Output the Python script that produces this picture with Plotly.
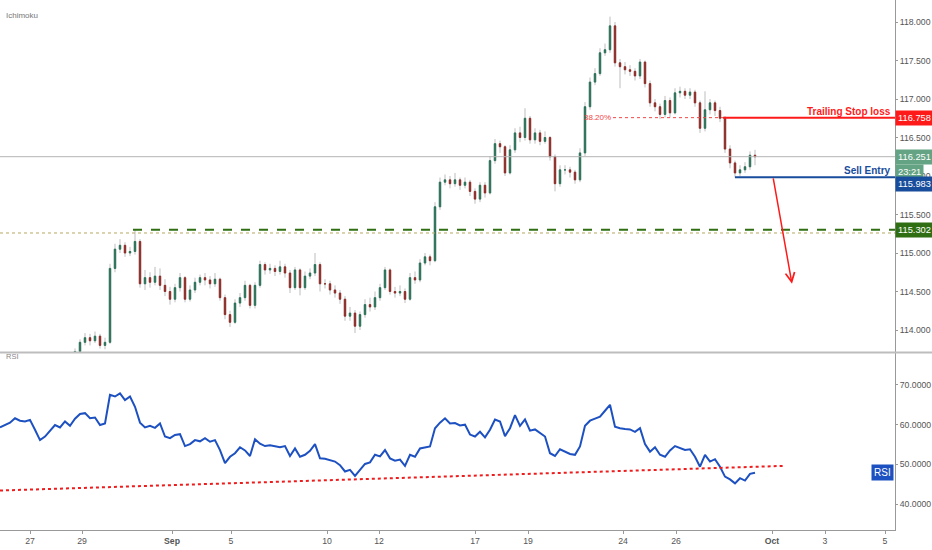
import numpy as np
import plotly.graph_objects as go
from plotly.subplots import make_subplots

# bar index axis (one bar per ~4h), ticks where the day labels sit
tick_pos = [6, 16.4, 34.4, 46.2, 65.4, 75.8, 95, 105.6, 124.6, 135.2, 154.4, 165, 177]
tick_text = ["27", "29", "<b>Sep</b>", "5", "10", "12", "17", "19", "24", "26", "<b>Oct</b>", "3", "5"]

first_bar = 15
opens = [
    113.66, 113.72, 113.84, 113.90, 113.86, 113.92, 113.80, 113.84, 114.80, 115.05,
    115.10, 115.00, 115.02, 115.15, 114.60, 114.68, 114.62, 114.70, 114.58, 114.50,
    114.40, 114.55, 114.68, 114.40, 114.52, 114.62, 114.68, 114.65, 114.60, 114.66,
    114.42, 114.20, 114.10, 114.35, 114.42, 114.58, 114.32, 114.58, 114.85, 114.78,
    114.80, 114.76, 114.82, 114.74, 114.55, 114.78, 114.55, 114.70, 114.74, 114.85,
    114.60, 114.60, 114.52, 114.48, 114.40, 114.18, 114.22, 114.05, 114.20, 114.33,
    114.30, 114.42, 114.55, 114.78, 114.50, 114.48, 114.50, 114.40, 114.68, 114.65,
    114.87, 114.95, 114.90, 115.60, 115.92, 115.95, 115.90, 115.95, 115.88, 115.92,
    115.80, 115.70, 115.88, 115.78, 116.20, 116.42, 116.38, 116.04, 116.34, 116.56,
    116.50, 116.75, 116.47, 116.56, 116.45, 116.50, 116.25, 115.90, 116.08, 116.08,
    116.05, 115.95, 116.30, 116.90, 117.22, 117.33, 117.60, 117.64, 117.95, 117.47,
    117.42, 117.38, 117.36, 117.30, 117.48, 117.20, 116.95, 116.90, 116.80, 116.98,
    116.82, 117.08, 117.10, 117.05, 117.09, 116.95, 116.62, 116.86, 116.95, 116.85,
    116.75, 116.35, 116.17, 116.04, 116.08, 116.12, 116.27,
]
highs = [
    113.76, 113.88, 113.96, 113.95, 113.98, 113.95, 113.90, 114.86, 115.12, 115.18,
    115.14, 115.08, 115.30, 115.18, 114.78, 114.75, 114.82, 114.80, 114.66, 114.56,
    114.60, 114.74, 114.70, 114.58, 114.68, 114.72, 114.74, 114.70, 114.74, 114.68,
    114.46, 114.25, 114.40, 114.48, 114.64, 114.60, 114.62, 114.90, 114.88, 114.86,
    114.84, 114.90, 114.86, 114.78, 114.82, 114.80, 114.76, 114.80, 115.00, 114.88,
    114.66, 114.64, 114.58, 114.52, 114.44, 114.30, 114.26, 114.24, 114.40, 114.42,
    114.50, 114.60, 114.82, 114.80, 114.56, 114.58, 114.54, 114.74, 114.76, 114.92,
    115.00, 114.98, 115.66, 115.98, 116.02, 116.00, 116.04, 115.98, 115.98, 115.95,
    115.84, 115.92, 115.92, 116.26, 116.48, 116.46, 116.40, 116.40, 116.62, 116.64,
    116.88, 116.78, 116.62, 116.60, 116.58, 116.52, 116.28, 116.14, 116.14, 116.12,
    116.08, 116.36, 116.96, 117.28, 117.40, 117.66, 117.72, 118.07, 118.00, 117.52,
    117.48, 117.44, 117.40, 117.52, 117.50, 117.24, 117.00, 116.94, 117.04, 117.02,
    117.14, 117.16, 117.14, 117.14, 117.12, 116.98, 117.10, 117.00, 116.98, 116.90,
    116.78, 116.40, 116.20, 116.14, 116.18, 116.32, 116.34,
]
lows = [
    113.62, 113.70, 113.80, 113.80, 113.83, 113.76, 113.75, 113.82, 114.75, 115.00,
    114.95, 114.96, 114.98, 114.55, 114.52, 114.55, 114.58, 114.52, 114.44, 114.33,
    114.36, 114.50, 114.36, 114.37, 114.48, 114.58, 114.58, 114.54, 114.56, 114.38,
    114.14, 114.04, 114.08, 114.30, 114.38, 114.28, 114.28, 114.55, 114.72, 114.73,
    114.70, 114.72, 114.68, 114.48, 114.52, 114.45, 114.52, 114.66, 114.70, 114.50,
    114.54, 114.46, 114.42, 114.34, 114.12, 114.12, 113.96, 114.00, 114.16, 114.24,
    114.26, 114.38, 114.52, 114.46, 114.42, 114.44, 114.35, 114.38, 114.60, 114.62,
    114.84, 114.84, 114.88, 115.56, 115.88, 115.84, 115.86, 115.82, 115.84, 115.74,
    115.64, 115.66, 115.72, 115.76, 116.16, 116.30, 116.00, 116.02, 116.30, 116.44,
    116.46, 116.42, 116.42, 116.40, 116.42, 116.20, 115.80, 115.86, 116.02, 115.98,
    115.90, 115.92, 116.26, 116.86, 117.18, 117.30, 117.56, 117.60, 117.42, 117.14,
    117.32, 117.30, 117.24, 117.26, 117.15, 116.90, 116.84, 116.74, 116.76, 116.76,
    116.80, 117.02, 117.00, 117.00, 116.90, 116.56, 116.58, 116.80, 116.78, 116.70,
    116.30, 116.10, 115.98, 116.00, 116.04, 116.08, 116.14,
]
closes = [
    113.72, 113.84, 113.90, 113.86, 113.92, 113.80, 113.84, 114.80, 115.05, 115.10,
    115.00, 115.02, 115.15, 114.60, 114.68, 114.62, 114.70, 114.58, 114.50, 114.40,
    114.55, 114.68, 114.40, 114.52, 114.62, 114.68, 114.65, 114.60, 114.66, 114.42,
    114.20, 114.10, 114.35, 114.42, 114.58, 114.32, 114.58, 114.85, 114.78, 114.80,
    114.76, 114.82, 114.74, 114.55, 114.78, 114.55, 114.70, 114.74, 114.85, 114.60,
    114.60, 114.52, 114.48, 114.40, 114.18, 114.22, 114.05, 114.20, 114.33, 114.30,
    114.42, 114.55, 114.78, 114.50, 114.48, 114.50, 114.40, 114.68, 114.65, 114.87,
    114.95, 114.90, 115.60, 115.92, 115.95, 115.90, 115.95, 115.88, 115.92, 115.80,
    115.70, 115.88, 115.78, 116.20, 116.42, 116.38, 116.04, 116.34, 116.56, 116.50,
    116.75, 116.47, 116.56, 116.45, 116.50, 116.25, 115.90, 116.08, 116.08, 116.05,
    115.95, 116.30, 116.90, 117.22, 117.33, 117.60, 117.64, 117.95, 117.47, 117.42,
    117.38, 117.36, 117.30, 117.48, 117.20, 116.95, 116.90, 116.80, 116.98, 116.82,
    117.08, 117.10, 117.05, 117.09, 116.95, 116.62, 116.86, 116.95, 116.85, 116.75,
    116.35, 116.17, 116.04, 116.08, 116.12, 116.27, 116.25,
]

rsi = [
    59.3, 60.0, 60.5, 61.6, 61.0, 60.8, 61.2, 58.7, 56.1, 57.0,
    58.5, 59.9, 59.3, 60.8, 59.7, 61.5, 62.7, 62.9, 61.6, 61.8,
    59.9, 60.3, 67.5, 67.1, 67.9, 66.2, 67.1, 64.5, 60.5, 59.3,
    59.7, 59.2, 60.3, 57.0, 56.6, 57.4, 57.6, 54.6, 55.1, 56.1,
    55.8, 56.6, 55.7, 56.1, 53.6, 50.3, 51.9, 52.8, 54.3, 53.5,
    52.1, 56.3, 55.2, 54.6, 54.8, 54.5, 54.3, 54.6, 52.1, 54.0,
    51.9, 52.4, 53.4, 55.1, 51.5, 51.4, 51.1, 50.7, 49.8, 48.2,
    48.6, 47.1, 48.6, 50.1, 50.5, 52.4, 52.0, 53.6, 51.5, 50.9,
    51.2, 49.6, 52.4, 51.9, 54.0, 54.2, 54.5, 59.1, 60.5, 61.6,
    60.3, 60.4, 59.8, 60.0, 57.5, 57.0, 58.2, 56.8, 58.7, 61.3,
    60.8, 57.1, 59.1, 62.4, 59.7, 61.3, 58.5, 58.8, 57.8, 57.0,
    52.8, 52.1, 53.8, 53.2, 52.6, 52.4, 54.5, 59.7, 61.0, 61.5,
    62.0, 63.5, 65.0, 59.5, 59.1, 58.9, 58.8, 58.2, 59.1, 55.1,
    53.2, 54.3, 52.4, 51.9, 53.5, 54.6, 54.0, 53.6, 53.8, 51.9,
    49.4, 52.4, 50.7, 51.3, 49.4, 46.9, 46.2, 45.2, 46.5, 45.9,
    47.6, 47.9,
]

# drawn levels
last_price = 116.251
stop_level = 116.758
entry_level = 115.983
support_level = 115.302
old_level = 115.26
stop_start, entry_start, support_start = 144.6, 147, 26.6
fib_start = 122.6
arrow_from = (154.6, 115.99)
arrow_to = (158.4, 114.60)
rsi_trend = ([0, 156.6], [43.4, 49.6])

UP, DOWN, WICK = "#2c7258", "#8e2d28", "#bdbdbd"
FONT = "Liberation Sans, Arial, sans-serif"
TICK = dict(size=8.7, color="#555", family=FONT)

bars = np.arange(first_bar, first_bar + len(closes))
o, h, l, c = map(np.array, (opens, highs, lows, closes))

fig = make_subplots(rows=2, cols=1, shared_xaxes=True, vertical_spacing=0.002)

# wicks first (grey), then bodies on top
fig.add_trace(go.Candlestick(x=bars, open=o, high=h, low=l, close=c,
                             increasing=dict(line=dict(color=WICK, width=1), fillcolor=WICK),
                             decreasing=dict(line=dict(color=WICK, width=1), fillcolor=WICK),
                             hoverinfo="skip"), row=1, col=1)
fig.add_trace(go.Candlestick(x=bars, open=o, close=c,
                             high=np.maximum(o, c), low=np.minimum(o, c),
                             increasing=dict(line=dict(color=UP, width=1), fillcolor=UP),
                             decreasing=dict(line=dict(color=DOWN, width=1), fillcolor=DOWN),
                             hoverinfo="skip"), row=1, col=1)

# level lines
fig.add_trace(go.Scatter(x=[0, 179], y=[last_price] * 2, mode="lines",
                         line=dict(color="#b4b4b4", width=1)), row=1, col=1)
fig.add_trace(go.Scatter(x=[0, 179], y=[old_level] * 2, mode="lines",
                         line=dict(color="#b8a860", width=1, dash="dot")), row=1, col=1)
fig.add_trace(go.Scatter(x=[support_start, 179], y=[support_level] * 2, mode="lines",
                         line=dict(color="#2f6e12", width=2, dash="dash")), row=1, col=1)
fig.add_trace(go.Scatter(x=[fib_start, stop_start], y=[stop_level] * 2, mode="lines",
                         line=dict(color="#f24646", width=1, dash="dot")), row=1, col=1)
fig.add_trace(go.Scatter(x=[stop_start, 179], y=[stop_level] * 2, mode="lines",
                         line=dict(color="#ff1a1a", width=2)), row=1, col=1)
fig.add_trace(go.Scatter(x=[entry_start, 179], y=[entry_level] * 2, mode="lines",
                         line=dict(color="#184d9c", width=2)), row=1, col=1)

# RSI pane
fig.add_trace(go.Scatter(x=np.arange(len(rsi)), y=rsi, mode="lines",
                         line=dict(color="#1d50c0", width=2)), row=2, col=1)
fig.add_trace(go.Scatter(x=rsi_trend[0], y=rsi_trend[1], mode="lines",
                         line=dict(color="#ee1c1c", width=2, dash="dot")), row=2, col=1)

ann = []
def tag(text, y, bg, yref="y", yshift=0):
    ann.append(dict(text=text, xref="paper", x=1.0, xanchor="left", yref=yref, y=y,
                    yshift=yshift, showarrow=False, bgcolor=bg, borderpad=2,
                    font=dict(color="white", size=9.3, family=FONT)))

tag(f"{stop_level:.3f}", stop_level, "#ff1a1a")
tag(f"{last_price:.3f}", last_price, "#64a384")
tag("23:21", last_price, "#64a384", yshift=-15)
tag(f"{entry_level:.3f}", entry_level, "#184d9c", yshift=-7)
tag(f"{support_level:.3f}", support_level, "#2f6e12")

ann += [
    dict(text="<b>Trailing Stop loss</b>", xref="paper", x=0.998, xanchor="right",
         yref="y", y=stop_level, yanchor="bottom", yshift=-1, showarrow=False,
         font=dict(color="#ff1a1a", size=10, family=FONT)),
    dict(text="<b>Sell Entry</b>", xref="paper", x=0.998, xanchor="right",
         yref="y", y=entry_level, yanchor="bottom", yshift=-1, showarrow=False,
         font=dict(color="#184d9c", size=10, family=FONT)),
    dict(text="38.20%", xref="x", x=fib_start, xanchor="right", yref="y", y=stop_level,
         showarrow=False, font=dict(color="#f24646", size=8, family=FONT)),
    dict(text="", x=arrow_to[0], y=arrow_to[1], xref="x", yref="y",
         ax=arrow_from[0], ay=arrow_from[1], axref="x", ayref="y",
         showarrow=True, arrowhead=5, arrowsize=1.2, arrowwidth=1.5, arrowcolor="#ff1a1a"),
    dict(text="RSI", xref="paper", x=0.999, xanchor="right", yref="y2", y=rsi[-1],
         showarrow=False, bgcolor="#1d50c0", borderpad=2,
         font=dict(color="white", size=10, family=FONT)),
    dict(text="Ichimoku", xref="paper", x=0.004, xanchor="left", yref="paper", y=0.983,
         showarrow=False, font=dict(color="#777", size=8, family=FONT)),
    dict(text="RSI", xref="paper", x=0.004, xanchor="left", yref="paper", y=0.315,
         showarrow=False, font=dict(color="#888", size=7.5, family=FONT)),
]

fig.update_layout(
    width=932, height=550, margin=dict(l=0, r=37, t=0, b=20, autoexpand=False),
    paper_bgcolor="white", plot_bgcolor="white", showlegend=False,
    font=dict(family=FONT, size=10, color="#555"),
    annotations=ann, hovermode=False, boxgap=0.6,
    shapes=[dict(type="line", xref="paper", yref="paper", x0=0, x1=932 / 895,
                 y0=0.3349, y1=0.3349, line=dict(color="#bdbdbd", width=2))],
)

fig.update_xaxes(range=[0, 179], showgrid=False, zeroline=False, rangeslider_visible=False,
                 tickvals=tick_pos, ticktext=tick_text, automargin=False)
fig.update_xaxes(showticklabels=False, ticks="", row=1, col=1)
fig.update_xaxes(showline=True, linecolor="#999", linewidth=1, ticks="outside",
                 ticklen=3, tickcolor="#999", tickfont=TICK, row=2, col=1)

fig.update_yaxes(side="right", showgrid=False, zeroline=False, showline=True, automargin=False,
                 linecolor="#999", linewidth=1, ticks="outside", ticklen=2, tickcolor="#999",
                 tickfont=TICK)
fig.update_yaxes(domain=[0.3358, 1.0], range=[113.714, 118.286], tickvals=list(np.arange(114, 118.01, 0.5)),
                 tickformat=".3f", row=1, col=1)
fig.update_yaxes(domain=[0.0, 0.334], range=[33.45, 78.06], tickvals=[40, 50, 60, 70],
                 tickformat=".4f", row=2, col=1)

# page body has a default 8px margin; drop it so the figure fills the window
fig.write_html("out.html", config={"displayModeBar": False},
               post_script="document.body.style.margin='0';")
